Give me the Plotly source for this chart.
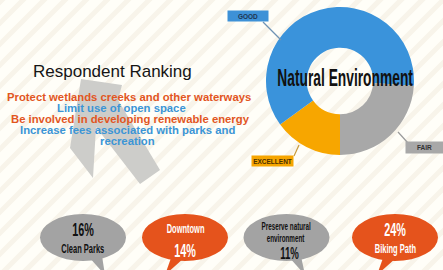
import plotly.graph_objects as go

# ---------------- data ----------------
donut_categories = ["EXCELLENT", "GOOD", "FAIR"]
donut_values = [15, 61, 24]
donut_title = "Natural Environment"

ranking_title = "Respondent Ranking"
ranking_items = [
    "Protect wetlands creeks and other waterways",
    "Limit use of open space",
    "Be involved in developing renewable energy",
    "Increase fees associated with parks and<br>recreation",
]

bubble_labels = ["Clean Parks", "Downtown", "Preserve natural<br>environment", "Biking Path"]
bubble_values = [16, 14, 11, 24]

# ---------------- style ----------------
W, H = 443, 270
BG = "#fffef8"
STRIPE = "#f8f4ea"
# condensed display face: Liberation Sans bold squeezed horizontally (see post_script)
COND = "Liberation Sans, Arial Narrow, sans-serif"
SANS = "Liberation Sans, Arial, sans-serif"

donut_colors = ["#f7a600", "#3a93db", "#a8a8a8"]
ranking_colors = ["#e2561f", "#3b95d6", "#e2561f", "#3b95d6"]
ranking_line_x = [129, 121, 130, 127.5, 127.5]
bubble_colors = ["#a3a3a3", "#e5531c", "#a3a3a3", "#e5531c"]
bubble_text_colors = ["#111111", "#ffffff", "#111111", "#ffffff"]
bubble_cx = [83, 185, 286.5, 395]
bubble_pct_first = [True, False, False, True]
bubble_tails = [
    "M 88,256 L 102,256 L 105,275 Z",
    "M 171,258 L 184,258 L 165,275 Z",
    "M 288,256 L 301,256 L 305,275 Z",
    "M 383,258 L 396,258 L 377,275 Z",
]

fig = go.Figure()

# invisible trace to establish a pixel-like coordinate system
fig.add_trace(go.Scatter(x=[0, W], y=[0, H], mode="markers",
                         marker=dict(opacity=0), hoverinfo="skip", showlegend=False))

# donut
cx, cy, r = 340, 81, 74
fig.add_trace(go.Pie(
    labels=donut_categories, values=donut_values,
    marker=dict(colors=donut_colors, line=dict(width=0)),
    hole=0.45, sort=False, direction="clockwise", rotation=180,
    textinfo="none", hoverinfo="skip", showlegend=False,
    domain=dict(x=[(cx - r) / W, (cx + r) / W], y=[1 - (cy + r) / H, 1 - (cy - r) / H]),
))

shapes = []
# diagonal stripes background
for k in range(-14, 23):
    x0 = k * 21
    shapes.append(dict(type="line", xref="x", yref="y", x0=x0, y0=H + 5, x1=x0 + H + 10, y1=-5,
                       line=dict(color=STRIPE, width=5), layer="below"))

# grey arrow decoration
shapes.append(dict(type="path", xref="x", yref="y",
                   path="M 81,79 L 122,85 L 118,100 L 160,170 L 140,184 L 96,127 L 93,178 L 70,148 Z",
                   fillcolor="#cdcdca", line=dict(width=0), layer="below"))

# speech bubbles
for i in range(4):
    shapes.append(dict(type="circle", xref="x", yref="y",
                       x0=bubble_cx[i] - 43, x1=bubble_cx[i] + 43, y0=214, y1=261,
                       fillcolor=bubble_colors[i], line=dict(width=0), layer="above"))
    shapes.append(dict(type="path", xref="x", yref="y", path=bubble_tails[i],
                       fillcolor=bubble_colors[i], line=dict(width=0), layer="above"))

# leader lines for donut labels
leaders = [((263, 22), (281, 40), "#6f93b3"),
           ((398, 132), (408, 143), "#9a9a9a"),
           ((299, 145), (294, 156), "#c89a3a")]
for (a, b, c) in leaders:
    shapes.append(dict(type="line", xref="x", yref="y", x0=a[0], y0=a[1], x1=b[0], y1=b[1],
                       line=dict(color=c, width=1.2), layer="above"))

ann = []
ann.append(dict(x=112, y=71, text=ranking_title, showarrow=False,
                font=dict(family=SANS, size=17, color="#151515")))

line_idx = 0
for item, col in zip(ranking_items, ranking_colors):
    for part in item.split("<br>"):
        ann.append(dict(x=ranking_line_x[line_idx], y=97 + 11 * line_idx, text=part, showarrow=False,
                        font=dict(family=SANS, size=11.3, color=col, weight="bold")))
        line_idx += 1

ann.append(dict(x=345, y=78, text=donut_title, showarrow=False,
                font=dict(family=COND, size=23, color="#111111", weight="bold")))

label_boxes = {"GOOD": (248, 16, 40, 10, "#3d91d7", "#1d3552"),
               "FAIR": (424.5, 147.5, 37, 11, "#a8a8a8", "#333333"),
               "EXCELLENT": (272.5, 161, 41, 10, "#f6a500", "#4a3000")}
for cat in donut_categories:
    bx, by, bw, bh, bg, fc = label_boxes[cat]
    ann.append(dict(x=bx, y=by, text=cat, showarrow=False, width=bw, height=bh,
                    bgcolor=bg, borderpad=0,
                    font=dict(family=SANS, size=6.5, color=fc, weight="bold")))


def bfont(size, color):
    return dict(family=COND, size=size, color=color, weight="bold")


for i in range(4):
    pct = f"{bubble_values[i]}%"
    lab = bubble_labels[i]
    tc = bubble_text_colors[i]
    if bubble_pct_first[i]:
        ann.append(dict(x=bubble_cx[i], y=230, text=pct, showarrow=False, font=bfont(18, tc)))
        ann.append(dict(x=bubble_cx[i], y=248.5, text=lab, showarrow=False, font=bfont(12.5, tc)))
    else:
        parts = lab.split("<br>")
        if len(parts) == 1:
            ann.append(dict(x=bubble_cx[i], y=229, text=parts[0], showarrow=False, font=bfont(12.5, tc)))
            ann.append(dict(x=bubble_cx[i], y=250.5, text=pct, showarrow=False, font=bfont(18, tc)))
        else:
            for j, p in enumerate(parts):
                ann.append(dict(x=bubble_cx[i] - 1, y=226 + 12 * j, text=p, showarrow=False,
                                font=bfont(10.5, tc)))
            ann.append(dict(x=bubble_cx[i] + 3, y=253.5, text=pct, showarrow=False, font=bfont(16, tc)))

fig.update_layout(
    width=W, height=H,
    margin=dict(l=0, r=0, t=0, b=0),
    paper_bgcolor=BG, plot_bgcolor=BG,
    xaxis=dict(range=[0, W], visible=False, fixedrange=True),
    yaxis=dict(range=[H, 0], visible=False, fixedrange=True),
    shapes=shapes, annotations=ann, showlegend=False,
)

post = """
document.body.style.margin='0';document.body.style.padding='0';
var gd = document.getElementById('{plot_id}');
function squeeze(){
  var ts = gd.querySelectorAll('text.annotation-text');
  ts.forEach(function(t){
    var ff = t.style.fontFamily || '';
    if (ff.indexOf('Narrow') < 0) return;
    var x = parseFloat(t.getAttribute('x')) || 0;
    t.setAttribute('transform', 'translate(' + x + ',0) scale(0.6,1) translate(' + (-x) + ',0)');
  });
}
squeeze();
setTimeout(squeeze, 30);
if (gd.on) { gd.on('plotly_afterplot', squeeze); }
"""

fig.write_html("out.html", config={"displayModeBar": False}, post_script=post)
